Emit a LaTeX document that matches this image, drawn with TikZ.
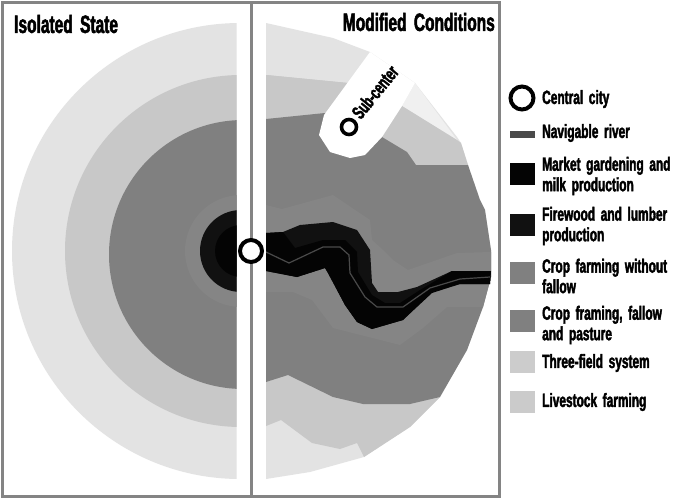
\documentclass[tikz,border=0pt]{standalone}
\usepackage{fontspec}
\setmainfont[FakeStretch=0.62,FakeBold=2,WordSpace=1.7]{Liberation Sans Bold}
\definecolor{cOuter}{HTML}{E3E3E3}
\definecolor{cSecond}{HTML}{C8C8C8}
\definecolor{cThird}{HTML}{808080}
\definecolor{cFourth}{HTML}{858585}
\definecolor{cFire}{HTML}{111111}
\definecolor{cMarket}{HTML}{040404}
\definecolor{cRiver}{HTML}{4A4A4A}
\definecolor{cFrame}{HTML}{848484}
\tikzset{
  frameline/.style={draw=cFrame,line width=3pt},
  swatch/.style={draw=none,minimum width=25pt,minimum height=22pt,inner sep=0pt,anchor=north west},
  legendtext/.style={anchor=west,align=left,inner sep=0pt,font=\fontsize{19.2}{20.5}\selectfont},
  titletext/.style={inner sep=0pt,font=\fontsize{25}{26}\selectfont},
  city/.style={circle,draw=black,fill=white,line width=4pt,inner sep=0pt,minimum size=22pt}
}
\begin{document}
\begin{tikzpicture}[x=1pt,y=-1pt]
\useasboundingbox (0,0) rectangle (683,498);
\fill[white] (0,0) rectangle (683,498);
% isolated state
\begin{scope}
\clip (0,0) rectangle (236.5,498);
\fill[cOuter] (240,251) circle[radius=228];
\fill[cSecond] (241,251) circle[radius=176];
\fill[cThird] (243.5,254.5) circle[radius=134.5];
\fill[cFourth] (241,251) circle[radius=56];
\fill[cFire] (241,251) circle[radius=41];
\fill[cMarket] (241,251) circle[radius=26];
\end{scope}
% modified conditions
\fill[cOuter] (266,23)--(333,38)--(370,52)--(415,83)--(457,137)--(461,143)--(468,165)--(480,200)--(485,210)--(491,250)--(491,277)--(483,307)--(467,350)--(440,397)--(410,427)--(364,457)--(310,472)--(266,479)--cycle;
\fill[cOuter!55!white] (415,83)--(457,140)--(402,106)--cycle;
\fill[cSecond] (266,75)--(348,83)--(402,106)--(457,140)--(461,143)--(468,165)--(416,165)--cycle;
\fill[cSecond] (266,75)--(348,83)--(402,106)--(416,165)--(266,165)--cycle;
\fill[cSecond] (266,426)--(281,420)--(312,443)--(340,449)--(357,443)--(364,457)--(410,427)--(440,397)--(410,360)--(266,360)--cycle;
\fill[cThird] (266,119)--(325,113)--(382,137)--(407,152)--(416,165)--(468,165)--(480,200)--(485,210)--(491,250)--(491,277)--(483,307)--(467,350)--(440,397)--(410,404)--(363,404)--(333,397)--(288,375)--(266,382)--cycle;
\fill[cFourth] (266,205)--(282,209)--(333,195)--(370,220)--(372,240)--(383,250)--(393,260)--(408,270)--(457,253)--(491,252)--(491,277)--(483,307)--(447,307)--(423,328)--(400,345)--(333,328)--(312,300)--(293,292)--(266,292)--cycle;
\fill[cFire] (266,233)--(283,232)--(300,225)--(333,222)--(357,230)--(370,250)--(372,283)--(378,292)--(398,292)--(417,287)--(452,271)--(491,271)--(490,284)--(460,284)--(430,292)--(403,320)--(372,329)--(357,322)--(345,305)--(328,273)--(325,268)--(297,277)--(266,271)--cycle;
\fill[cMarket] (266,233)--(283,232)--(295,248)--(323,240)--(345,240)--(357,252)--(358,272)--(372,295)--(385,303)--(400,303)--(420,290)--(452,271)--(491,271)--(490,284)--(460,284)--(432,293)--(403,320)--(372,329)--(357,322)--(345,305)--(328,273)--(325,268)--(297,277)--(266,271)--cycle;
\draw[cRiver,line width=1.2pt] (266,252)--(289,263)--(323,247)--(340,247)--(349,255)--(350,273)--(365,297)--(377,307)--(403,307)--(430,288)--(460,279)--(490,277);
% sub-centre corridor
\fill[white] (370,52)--(324,115)--(319,135)--(330,152)--(350,158)--(365,155)--(382,137)--(402,106)--(415,83)--cycle;
% frame
\draw[frameline] (2,2) rectangle (499,496);
\fill[white] (237,3.5) rectangle (266,494.5);
\draw[frameline] (251.5,2)--(251.5,496);
% cities
\node[city] (central) at (251,251) {};
\node[city,minimum size=15pt,line width=3.6pt] (sub) at (349,127) {};
\node[inner sep=0pt,rotate=51,font=\fontsize{19}{20}\selectfont] (sublabel) at (375,92) {Sub-center};
% titles
\node[titletext,anchor=west] (iso) at (14,24) {Isolated State};
\node[titletext,anchor=east] (mod) at (495,22) {Modified Conditions};
% legend
\node[city,minimum size=23pt] (lgcity) at (522,98) {};
\node[legendtext] (t1) at (542,99) {Central city};
\node[swatch,fill=cRiver,minimum height=7pt] (s2) at (510,131) {};
\node[legendtext] (t2) at (542,133) {Navigable river};
\node[swatch,fill=cMarket] (s3) at (510,163) {};
\node[legendtext] (t3) at (542,176) {Market gardening and\\milk production};
\node[swatch,fill=cFire] (s4) at (510,214) {};
\node[legendtext] (t4) at (542,226) {Firewood and lumber\\production};
\node[swatch,fill=cThird] (s5) at (510,262) {};
\node[legendtext] (t5) at (542,276) {Crop farming without\\fallow};
\node[swatch,fill=cThird] (s6) at (510,310) {};
\node[legendtext] (t6) at (542,325) {Crop framing, fallow\\and pasture};
\node[swatch,fill=cOuter!90!black] (s7) at (510,351) {};
\node[legendtext] (t7) at (542,363) {Three-field system};
\node[swatch,fill=cSecond!95!white] (s8) at (510,391) {};
\node[legendtext] (t8) at (542,402) {Livestock farming};
\end{tikzpicture}
\end{document}
